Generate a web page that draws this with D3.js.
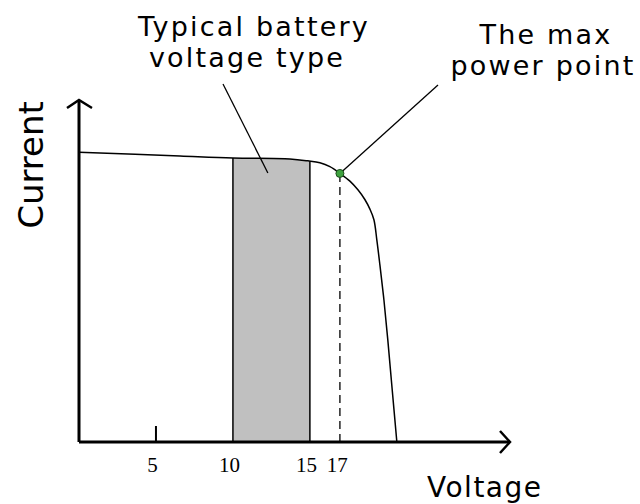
<!DOCTYPE html>
<html>
<head>
<meta charset="utf-8">
<script src="https://cdn.jsdelivr.net/npm/d3@7"></script>
<style>
  html, body { margin: 0; padding: 0; background: #fff; }
  svg { display: block; }
  .hand { font-family: "DejaVu Sans", "Open Sans", sans-serif; fill: #000; }
  .tick { font-family: "Liberation Serif", "DejaVu Serif", serif; fill: #000; }
</style>
</head>
<body>
<svg id="chart" width="640" height="504"></svg>
<script>
// ---- data ----
const curveVoltage = [0, 6.56, 10, 13.70, 14.87, 15.65, 16.30, 16.95, 17.60, 18.12, 18.57, 18.90, 19.16, 19.35, 19.55, 19.81, 20.06, 20.32, 20.65];
const curveCurrent = [3.00, 2.96, 2.94, 2.93, 2.91, 2.89, 2.85, 2.78, 2.70, 2.61, 2.51, 2.41, 2.30, 2.09, 1.83, 1.47, 1.06, 0.59, 0.00];
const tickValues = [5, 10, 15, 17];
const tickLabels = ["5", "10", "15", "17"];
const batteryRange = [10, 15];
const mppVoltage = [16.95];
const mppCurrent = [2.78];
const xTitle = "Voltage";
const yTitle = "Current";
const batteryNote = ["Typical battery", "voltage type"];
const mppNote = ["The max", "power point"];

// ---- setup ----
const svg = d3.select("#chart");
const x = d3.scaleLinear().domain([0, 28]).range([79, 510]);
const y = d3.scaleLinear().domain([0, 3.54]).range([442, 100]);

const pts = curveVoltage.map((v, i) => [v, curveCurrent[i]]);
const interp = d3.scaleLinear().domain(curveVoltage).range(curveCurrent);
const smooth = d3.curveCatmullRom.alpha(0.5);

// shaded battery region (area under curve between 10 and 15)
const bandPts = pts.filter(p => p[0] >= batteryRange[0] && p[0] <= batteryRange[1]);
if (bandPts[0][0] > batteryRange[0]) bandPts.unshift([batteryRange[0], interp(batteryRange[0])]);
if (bandPts[bandPts.length - 1][0] < batteryRange[1]) bandPts.push([batteryRange[1], interp(batteryRange[1])]);
svg.append("path")
  .datum(bandPts)
  .attr("d", d3.area().x(d => x(d[0])).y0(y(0)).y1(d => y(d[1])).curve(d3.curveMonotoneX))
  .attr("fill", "#c0c0c0");
svg.selectAll(".bandEdge").data(batteryRange).join("line")
  .attr("x1", d => x(d)).attr("x2", d => x(d))
  .attr("y1", y(0)).attr("y2", d => y(interp(d)))
  .attr("stroke", "#000").attr("stroke-width", 1.5);

// dashed line at max power voltage
svg.append("line")
  .attr("x1", x(mppVoltage[0])).attr("x2", x(mppVoltage[0]))
  .attr("y1", y(0)).attr("y2", y(mppCurrent[0]))
  .attr("stroke", "#000").attr("stroke-width", 1.3)
  .attr("stroke-dasharray", "8,5");

// IV curve
svg.append("path")
  .datum(pts)
  .attr("d", d3.line().x(d => x(d[0])).y(d => y(d[1])).curve(smooth))
  .attr("fill", "none").attr("stroke", "#000").attr("stroke-width", 1.5);

// x axis with ticks
const xAxis = d3.axisBottom(x).tickValues(tickValues).tickSize(0).tickFormat((d, i) => tickLabels[i]);
const gx = svg.append("g").attr("transform", `translate(0,${y(0)})`).call(xAxis);
gx.select(".domain").remove();
gx.selectAll("text").attr("class", "tick").attr("dy", null).attr("y", 30).attr("dx", -4)
  .style("font-size", "21px").attr("font-family", null);
// short tick at 5 only (others coincide with drawn lines)
svg.append("line")
  .attr("x1", x(tickValues[0])).attr("x2", x(tickValues[0]))
  .attr("y1", y(0)).attr("y2", y(0) - 16)
  .attr("stroke", "#000").attr("stroke-width", 2);

// axes lines
svg.append("line").attr("x1", x(0)).attr("x2", x(28)).attr("y1", y(0)).attr("y2", y(0))
  .attr("stroke", "#000").attr("stroke-width", 3);
svg.append("line").attr("x1", x(0)).attr("x2", x(0)).attr("y1", y(0)).attr("y2", y(3.54))
  .attr("stroke", "#000").attr("stroke-width", 3);
// arrow heads
svg.append("path")
  .attr("d", `M${x(28) - 10},${y(0) - 11} L${x(28)},${y(0)} L${x(28) - 10},${y(0) + 11}`)
  .attr("fill", "none").attr("stroke", "#000").attr("stroke-width", 2.5);
svg.append("path")
  .attr("d", `M${x(0) - 12},${y(3.54) + 8} L${x(0)},${y(3.54)} L${x(0) + 13},${y(3.54) + 8}`)
  .attr("fill", "none").attr("stroke", "#000").attr("stroke-width", 2.5);

// annotation lines
svg.append("line").attr("x1", 223).attr("y1", 84)
  .attr("x2", x(12.27)).attr("y2", y(2.785))
  .attr("stroke", "#000").attr("stroke-width", 1.3);
svg.append("line").attr("x1", x(mppVoltage[0])).attr("y1", y(mppCurrent[0]))
  .attr("x2", 438).attr("y2", 85)
  .attr("stroke", "#000").attr("stroke-width", 1.3);

// max power point
svg.append("circle")
  .attr("cx", x(mppVoltage[0])).attr("cy", y(mppCurrent[0])).attr("r", 4)
  .attr("fill", "#3fa33f").attr("stroke", "#1d4d1d").attr("stroke-width", 1);

// texts
const note = (txt, cx, by) => svg.append("text").attr("class", "hand").attr("text-anchor", "middle")
  .attr("x", cx).attr("y", by).style("font-size", "27px").style("letter-spacing", "2.2px").text(txt);
note(batteryNote[0], 254, 36);
note(batteryNote[1], 247, 67);
note(mppNote[0], 546, 44);
note(mppNote[1], 543, 75);
svg.append("text").attr("class", "hand").attr("text-anchor", "start")
  .attr("x", 427).attr("y", 497).style("font-size", "28px").style("letter-spacing", "1.5px").text(xTitle);
svg.append("text").attr("class", "hand").attr("text-anchor", "middle")
  .attr("transform", "translate(43,165) rotate(-90)").style("font-size", "34px").text(yTitle);
</script>
</body>
</html>
